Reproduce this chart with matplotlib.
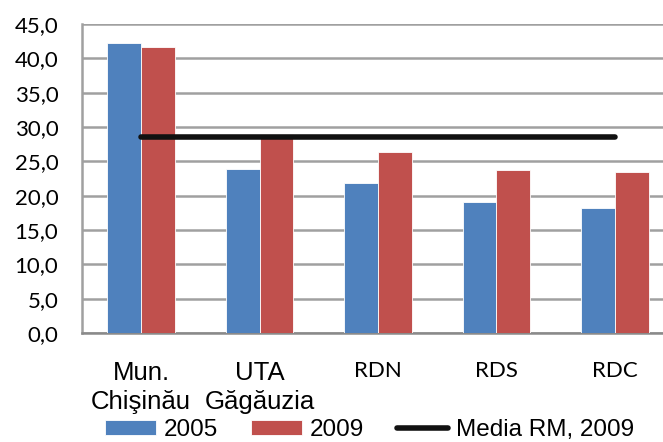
import numpy as np
import matplotlib
matplotlib.use("Agg")
import matplotlib.pyplot as plt

plt.rcParams["font.family"] = ["Lato", "DejaVu Sans"]

categories = ["Mun.\nChişinău", "UTA\nGăgăuzia", "RDN", "RDS", "RDC"]
values_2005 = [42.2, 23.9, 21.9, 19.1, 18.2]
values_2009 = [41.6, 29.0, 26.4, 23.8, 23.5]
media_rm_2009 = 28.6
y_ticks = [0, 5, 10, 15, 20, 25, 30, 35, 40, 45]

BLUE = "#4F81BD"
RED = "#C0504D"

fig = plt.figure(figsize=(6.63, 4.42), dpi=100)
ax = fig.add_axes([82 / 663, 109 / 442, 592 / 663, 309 / 442])

x = np.arange(len(categories))
w = 0.285
b1 = ax.bar(x - w / 2, values_2005, w, color=BLUE, edgecolor="white", linewidth=0.6, label="2005", zorder=3)
b2 = ax.bar(x + w / 2, values_2009, w, color=RED, edgecolor="white", linewidth=0.6, label="2009", zorder=3)
ln, = ax.plot([x[0], x[-1]], [media_rm_2009] * 2, color="#111111", linewidth=4,
              solid_capstyle="round", label="Media RM, 2009", zorder=4)

ax.set_xlim(-0.5, len(categories) - 0.5)
ax.set_ylim(0, 45)
ax.set_yticks(y_ticks)
ax.set_yticklabels([f"{v:.1f}".replace(".", ",") for v in y_ticks], fontsize=16)
ax.set_xticks(x)
ax.set_xticklabels(categories, linespacing=1.3)
for i, lbl in enumerate(ax.get_xticklabels()):
    if i < 2:
        lbl.set_family(["Liberation Sans", "DejaVu Sans"])
        lbl.set_fontsize(18.5)
    else:
        lbl.set_fontsize(16)
ax.tick_params(axis="y", length=0, pad=17)
ax.tick_params(axis="x", length=0, pad=20)

ax.grid(axis="y", color="#a0a0a0", linewidth=1.8, zorder=0)
for side in ["top", "right"]:
    ax.spines[side].set_visible(False)
ax.spines["left"].set_color("#a0a0a0")
ax.spines["left"].set_linewidth(1.8)
ax.spines["bottom"].set_color("#8a8a8a")
ax.spines["bottom"].set_linewidth(1.8)

fig.legend(handles=[b1, b2, ln], loc="center", bbox_to_anchor=(0.557, 0.027), ncol=3, frameon=False,
           prop={"family": ["Liberation Sans", "DejaVu Sans"], "size": 17.5},
           handlelength=2.1, handleheight=0.6, columnspacing=1.35, handletextpad=0.33)

fig.savefig("out.png", dpi=100)
